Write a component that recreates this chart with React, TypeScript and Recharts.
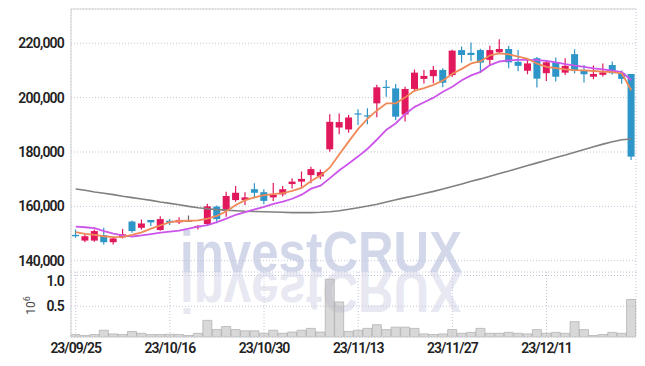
import React from 'react';
import { ComposedChart, Bar, Line, XAxis, YAxis, CartesianGrid, ReferenceLine } from 'recharts';

const dates = [
  '23/09/25','23/09/26','23/09/27','23/10/04','23/10/05','23/10/06','23/10/10','23/10/11','23/10/12','23/10/13',
  '23/10/16','23/10/17','23/10/18','23/10/19','23/10/20','23/10/23','23/10/24','23/10/25','23/10/26','23/10/27',
  '23/10/30','23/10/31','23/11/01','23/11/02','23/11/03','23/11/06','23/11/07','23/11/08','23/11/09','23/11/10',
  '23/11/13','23/11/14','23/11/15','23/11/16','23/11/17','23/11/20','23/11/21','23/11/22','23/11/23','23/11/24',
  '23/11/27','23/11/28','23/11/29','23/11/30','23/12/01','23/12/04','23/12/05','23/12/06','23/12/07','23/12/08',
  '23/12/11','23/12/12','23/12/13','23/12/14','23/12/15','23/12/18','23/12/19','23/12/20','23/12/21','23/12/22',
];

const opens = [
  149500,147400,147400,149400,146800,148600,154400,152100,155000,151300,
  154700,154100,154800,152300,153500,159900,158400,162300,162300,166300,
  165200,163300,164400,168200,169100,171500,171000,181000,189000,188300,
  194200,193500,197900,204000,203400,193800,203200,206900,207900,210200,
  208300,217500,216500,217500,213900,216700,217900,213200,209900,214500,
  209000,213100,209200,216000,210200,207700,208400,212000,209100,208700,
];
const highs = [
  151500,149800,151500,152100,148900,151700,154800,155200,155000,156400,
  155300,156000,156600,153100,161000,160300,165400,167500,165200,168500,
  166300,168600,167500,170300,172800,174600,173600,193900,194200,193600,
  195700,196100,204700,206500,205000,204000,210400,210200,211600,210800,
  217600,218800,220300,218000,219100,221500,219000,217500,214500,215000,
  213600,214800,214500,217800,212000,211800,212600,213300,210000,208700,
];
const lows = [
  148400,146800,147000,146000,146000,148200,150300,151500,152800,151000,
  153100,153500,154300,151500,152800,153800,156200,161700,160500,163000,
  160800,162000,163600,166600,167200,168500,170000,180100,186500,187100,
  189900,190200,192800,200300,191700,191200,202200,205200,205300,203800,
  207600,212800,213500,209200,211700,216300,210800,209700,208600,203700,
  206100,205900,208300,209000,205600,206800,207800,208500,205100,177100,
];
const closes = [
  149000,149000,150900,146800,148200,149700,150900,153700,154100,155300,
  154000,155000,154800,152800,160000,155300,163800,165000,163300,165000,
  162000,164200,166300,169100,170100,173700,172600,191100,191000,192700,
  194000,193100,203800,203600,193000,203200,209200,208000,210200,205500,
  217300,215700,215700,212900,217500,217900,213000,211700,212600,207000,
  213000,207700,211700,209900,208600,208700,209300,209000,206900,178300,
];
const ma5 = [
  150500,149900,149500,149000,148700,148800,149500,150400,151800,153000,
  154200,154600,154700,154800,155500,156500,158200,160500,162300,163300,
  164100,164500,164900,165700,166800,169300,171300,174300,179200,183900,
  188500,192300,195300,197900,197900,200100,202600,203500,204700,206300,
  208800,210600,212600,213400,215600,216300,215900,215100,214300,212500,
  211300,210900,210400,210100,210000,209800,209600,209400,208900,202700,
];
const ma10 = [
  152500,152300,152000,150900,150000,149300,148900,149300,149800,150300,
  150700,151100,151800,152500,153100,154200,155500,156900,157900,158900,
  159800,160900,161700,162800,164300,166500,167600,170400,173300,175800,
  178400,181200,184600,188200,190600,194000,196600,198300,200000,202200,
  204000,206400,208200,209500,212000,213300,213700,213900,213900,213800,
  213500,213000,212300,211800,211300,210800,210400,209900,209400,206400,
];
const ma60 = [
  166400,165900,165300,164800,164300,163700,163200,162700,162200,161600,
  161100,160600,160000,159500,159100,158800,158600,158400,158200,158100,
  158000,157900,157800,157700,157700,157700,157800,158000,158400,158900,
  159500,160100,160800,161600,162400,163200,163900,164700,165500,166400,
  167300,168200,169200,170100,171100,172100,173000,174000,175000,176000,
  177000,178000,178900,179900,180900,181900,182900,183800,184500,184800,
];
const volumes = [
  0.04,0.025,0.04,0.11,0.05,0.04,0.09,0.06,0.04,0.04,
  0.045,0.04,0.025,0.06,0.27,0.12,0.17,0.12,0.10,0.10,
  0.06,0.11,0.06,0.08,0.11,0.14,0.08,0.94,0.57,0.09,
  0.11,0.14,0.20,0.12,0.16,0.16,0.14,0.05,0.04,0.05,
  0.12,0.06,0.075,0.14,0.06,0.06,0.075,0.06,0.05,0.12,
  0.06,0.075,0.06,0.25,0.12,0.025,0.04,0.075,0.06,0.61,
];

const priceTicks = [140000, 160000, 180000, 200000, 220000];
const volumeTicks = [0.5, 1.0];
const dateTicks = ['23/09/25', '23/10/16', '23/10/30', '23/11/13', '23/11/27', '23/12/11'];
const priceDomain = [135840, 232620];
const volumeDomain = [0, 1.057];

const data = dates.map((date, i) => ({
  date,
  open: opens[i],
  high: highs[i],
  low: lows[i],
  close: closes[i],
  ma5: ma5[i],
  ma10: ma10[i],
  ma60: ma60[i],
  volume: volumes[i],
}));

const UP = '#e2185c';
const DOWN = '#2d95c8';
const FLAT = '#666666';
const GRID = '#c3c6da';
const FRAME = '#d2d2d2';
const LABEL_FONT = 'Roboto, "Liberation Sans", Arial, sans-serif';

const Candle = (props: any) => {
  const { x, y, width, height, payload } = props;
  if (!payload || x == null || y == null) return null;
  const { open, close, high, low } = payload;
  const top = Math.min(y, y + height);
  const h = Math.abs(height);
  const range = high - low;
  const k = range > 0 ? h / range : 0;
  const yOf = (v: number) => top + (high - v) * k;
  const color = close > open ? UP : close < open ? DOWN : FLAT;
  const bTop = yOf(Math.max(open, close));
  const bBot = yOf(Math.min(open, close));
  const bh = Math.max(bBot - bTop, 1.2);
  const cx = x + width / 2;
  return (
    <g>
      <line x1={cx} x2={cx} y1={top} y2={top + h} stroke={color} strokeWidth={1.2} />
      <rect x={x} y={bTop} width={width} height={bh} fill={color} />
    </g>
  );
};

const PriceTick = (props: any) => {
  const { x, y, payload } = props;
  return (
    <text x={x} y={y} dy="0.355em" textAnchor="end" fill="#222" fontSize={14} fontWeight={600}
      fontFamily={LABEL_FONT} style={{ letterSpacing: '-0.8px' }}>
      {Number(payload.value).toLocaleString('en-US')}
    </text>
  );
};

const VolTick = (props: any) => {
  const { x, y, payload } = props;
  return (
    <text x={x} y={y} dy="0.355em" textAnchor="end" fill="#222" fontSize={14} fontWeight={600}
      fontFamily={LABEL_FONT} style={{ letterSpacing: '-0.8px' }}>
      {Number(payload.value).toFixed(1)}
    </text>
  );
};

const DateTick = (props: any) => {
  const { x, y, payload } = props;
  return (
    <text x={x} y={y} dy="0.71em" textAnchor="middle" fill="#222" fontSize={14} fontWeight={600}
      fontFamily={LABEL_FONT} style={{ letterSpacing: '-1px' }}>
      {payload.value}
    </text>
  );
};

const VolUnitLabel = (props: any) => {
  const vb = props.viewBox || { x: 0, y: 272, width: 71, height: 65 };
  const tx = vb.x + 35;
  const ty = vb.y + vb.height / 2 + 1;
  return (
    <text transform={`translate(${tx},${ty}) rotate(-90)`} textAnchor="middle" fill="#444"
      fontSize={12} fontFamily={LABEL_FONT}>
      <tspan>10</tspan>
      <tspan dy={-5} fontSize={9}>6</tspan>
    </text>
  );
};

export default function App() {
  return (
    <div style={{ position: 'absolute', left: 0, top: 0, width: 645, height: 366, background: '#fff', overflow: 'hidden' }}>
      <svg width={645} height={366} style={{ position: 'absolute', left: 0, top: 0 }}>
        <text x={180} y={272} textLength={282} lengthAdjust="spacingAndGlyphs" fontSize={57} fontWeight="bold"
          fontFamily='"Liberation Sans", Arial, sans-serif' fill="#d3d7ea">investCRUX</text>
        <text x={180} y={272} textLength={282} lengthAdjust="spacingAndGlyphs" fontSize={57} fontWeight="bold"
          fontFamily='"Liberation Sans", Arial, sans-serif' fill="#e7e8f2"
          transform="translate(0,544) scale(1,-1)">investCRUX</text>
      </svg>
      <div style={{ position: 'absolute', left: 0, top: 0 }}>
        <ComposedChart width={645} height={272} data={data} margin={{ top: 9, right: 9, bottom: 0, left: 0 }}>
          <CartesianGrid stroke={GRID} strokeDasharray="1 2" />
          <XAxis dataKey="date" ticks={dateTicks} interval={0} height={0} tick={false} tickLine={false}
            axisLine={{ stroke: FRAME }} />
          <YAxis domain={priceDomain} ticks={priceTicks} width={71} allowDataOverflow
            tick={<PriceTick />} tickLine={false} tickMargin={1} axisLine={{ stroke: FRAME }} />
          <YAxis yAxisId="frame" orientation="right" width={0} domain={[0, 1]} tick={false} tickLine={false}
            axisLine={{ stroke: FRAME }} />
          <ReferenceLine y={priceDomain[1]} stroke={FRAME} />
          <Bar dataKey={(d: any) => [d.low, d.high]} barSize={7} shape={(p: any) => <Candle {...p} />}
            isAnimationActive={false} />
          <Line dataKey="ma60" type="linear" stroke="#808080" strokeWidth={1.6} dot={false} isAnimationActive={false} />
          <Line dataKey="ma10" type="linear" stroke="#cc55ea" strokeWidth={1.8} dot={false} isAnimationActive={false} />
          <Line dataKey="ma5" type="linear" stroke="#ef8a58" strokeWidth={1.8} dot={false} isAnimationActive={false} />
        </ComposedChart>
      </div>
      <div style={{ position: 'absolute', left: 0, top: 272 }}>
        <ComposedChart width={645} height={94} data={data} margin={{ top: 0, right: 9, bottom: 0, left: 0 }}
          barCategoryGap={0}>
          <CartesianGrid stroke={GRID} strokeDasharray="1 2" />
          <XAxis dataKey="date" ticks={dateTicks} interval={0} height={29} tick={<DateTick />} tickLine={false}
            tickMargin={0} axisLine={{ stroke: FRAME }} />
          <YAxis domain={volumeDomain} ticks={volumeTicks} width={71} allowDataOverflow
            tick={<VolTick />} tickLine={false} tickMargin={1} axisLine={{ stroke: FRAME }}
            label={{ content: (p: any) => <VolUnitLabel {...p} /> }} />
          <YAxis yAxisId="frame" orientation="right" width={0} domain={[0, 1]} tick={false} tickLine={false}
            axisLine={{ stroke: FRAME }} />
          <Bar dataKey="volume" fill="#a8a8a8" fillOpacity={0.45} stroke="#b4b4b4" strokeWidth={0.8}
            isAnimationActive={false} />
        </ComposedChart>
      </div>
    </div>
  );
}
